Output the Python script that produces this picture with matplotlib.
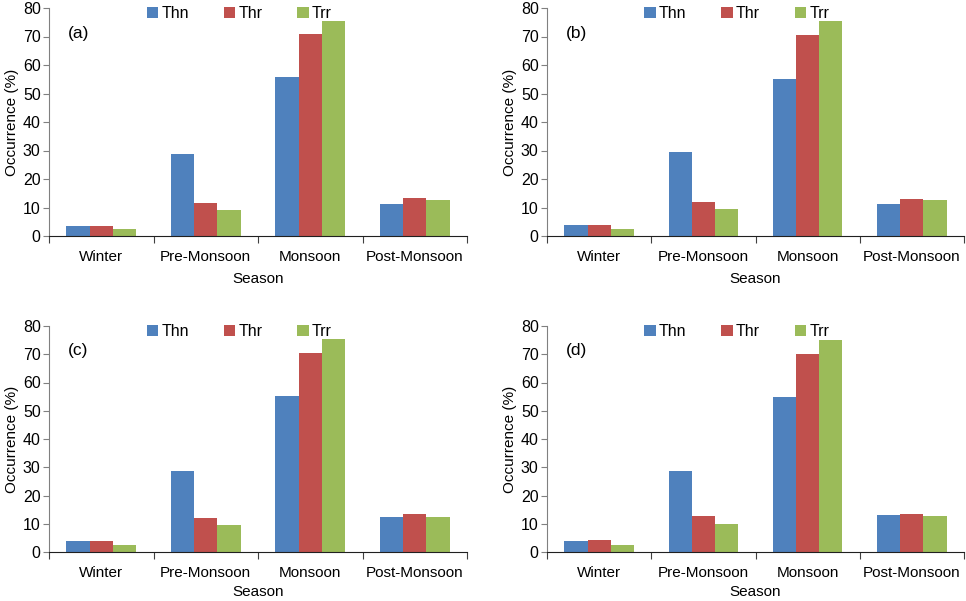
import matplotlib
matplotlib.use('Agg')
import matplotlib.pyplot as plt
import numpy as np

plt.rcParams['font.family'] = ['Liberation Sans', 'DejaVu Sans']
plt.rcParams['font.size'] = 10.5

seasons = ['Winter', 'Pre-Monsoon', 'Monsoon', 'Post-Monsoon']
series = ['Thn', 'Thr', 'Trr']
colors = ['#4F81BD', '#C0504D', '#9BBB59']
panels = ['(a)', '(b)', '(c)', '(d)']

# values per panel: rows = Thn, Thr, Trr
vals_a = [[3.6, 28.9, 55.9, 11.2], [3.6, 11.6, 71.0, 13.3], [2.3, 9.1, 75.4, 12.6]]
vals_b = [[3.7, 29.4, 55.0, 11.2], [3.7, 11.9, 70.6, 13.1], [2.3, 9.4, 75.3, 12.5]]
vals_c = [[3.8, 28.6, 55.2, 12.4], [4.0, 12.1, 70.4, 13.4], [2.4, 9.5, 75.5, 12.4]]
vals_d = [[3.8, 28.6, 55.0, 13.0], [4.2, 12.8, 70.1, 13.4], [2.6, 10.0, 75.2, 12.6]]
all_vals = [vals_a, vals_b, vals_c, vals_d]

W, H = 966, 601
fig = plt.figure(figsize=(W / 100, H / 100), dpi=100)

# axes boxes in pixels: left, right, top, bottom
boxes = [(49, 467, 8, 236), (547, 964, 8, 236),
         (49, 467, 326, 552), (547, 964, 326, 552)]

x = np.arange(len(seasons))
bw = 0.223
for k, (box, vals, tag) in enumerate(zip(boxes, all_vals, panels)):
    l, r, t, b = box
    ax = fig.add_axes([l / W, (H - b) / H, (r - l) / W, (b - t) / H])
    for i, (s, c) in enumerate(zip(series, colors)):
        ax.bar(x + (i - 1) * bw, vals[i], bw, color=c, label=s, zorder=2)
    ax.set_xlim(-0.5, 3.5)
    ax.set_ylim(0, 80)
    ax.set_yticks(range(0, 81, 10))
    ax.set_xticks(np.arange(-0.5, 4, 1))
    ax.set_xticklabels([])
    ax.set_xticks(x, minor=True)
    ax.set_xticklabels(seasons, minor=True)
    ax.tick_params(axis='x', which='major', length=5, direction='out', color='#404040')
    ax.tick_params(axis='x', which='minor', length=0, pad=10, labelsize=11)
    ax.tick_params(axis='y', length=4, direction='out', color='#808080', pad=2, labelsize=11.5)
    ax.spines['top'].set_visible(False)
    ax.spines['right'].set_visible(False)
    ax.spines['left'].set_color('#808080')
    ax.spines['bottom'].set_color('#202020')
    ax.set_ylabel('Occurrence (%)', labelpad=3, fontsize=11)
    ax.set_xlabel('Season', labelpad=6 if k < 2 else 4, fontsize=11)
    ax.text(0.045, 0.89, tag, transform=ax.transAxes, fontsize=12.5, va='center')
    ax.legend(loc='center', bbox_to_anchor=(0.455, 0.975), ncol=3, frameon=False,
              handlelength=0.7, handleheight=0.7, handletextpad=0.2,
              columnspacing=2.2, borderaxespad=0, fontsize=11.5)

plt.savefig('out.png', dpi=100)
